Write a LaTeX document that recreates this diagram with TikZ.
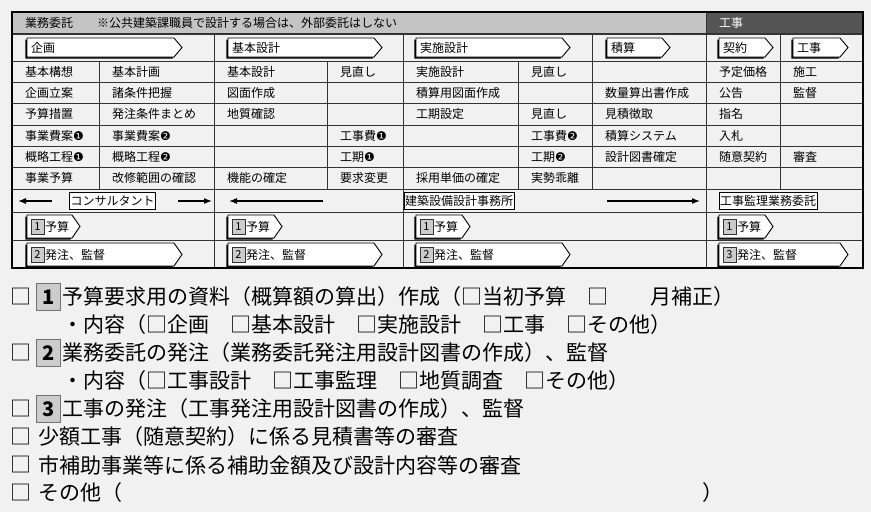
\documentclass[tikz,border=0pt]{standalone}
\usepackage{fontspec}
\setmainfont{Noto Sans CJK JP}
\newfontfamily\dingfont{DejaVu Sans}
\usepackage{xcolor}
\usetikzlibrary{arrows.meta}

\definecolor{bgcol}{HTML}{F1F1F1}
\definecolor{headgray}{HTML}{C4C4C4}
\definecolor{headdark}{HTML}{555555}
\definecolor{numgray}{HTML}{CCCCCC}
\definecolor{linecol}{HTML}{333333}

\newcommand{\cone}{{\dingfont\char"2776}}
\newcommand{\ctwo}{{\dingfont\char"2777}}

% chevron tag: left, top, bottom, tip
\newcommand{\tagshape}[4]{%
  \fill[black,shift={(-1.6,1.6)}] (#1,#2) -- (#4-8,#2) -- (#4,{(#2+#3)/2}) -- (#4-8,#3) -- (#1,#3) -- cycle;
  \draw[fill=white,line width=0.9pt] (#1,#2) -- (#4-8,#2) -- (#4,{(#2+#3)/2}) -- (#4-8,#3) -- (#1,#3) -- cycle;}

\tikzset{
  cell/.style={anchor=west, inner sep=0pt, font=\fontsize{12}{14}\selectfont},
  numtag/.style={draw=black!80, fill=numgray, minimum width=13pt, minimum height=15pt,
    inner sep=0pt, font=\fontsize{11}{12}\selectfont},
  firmbox/.style={draw, fill=white, inner xsep=1pt, inner ysep=0pt, minimum height=17pt,
    font=\fontsize{12}{14}\selectfont},
  arr/.style={-{Latex[length=8pt,width=6pt]}, line width=1.1pt},
  chk/.style={inner sep=0pt, font=\fontsize{21}{25}\selectfont},
  listnum/.style={draw=black!55, fill=numgray, minimum width=24pt, minimum height=27pt,
    inner sep=0pt, font=\fontsize{20}{22}\selectfont\bfseries},
  listtext/.style={anchor=west, inner sep=0pt, font=\fontsize{21}{25}\selectfont},
}

\begin{document}
\begin{tikzpicture}[x=1pt,y=-1pt]

    % page
    \useasboundingbox (0,0) rectangle (871,512);
    \fill[bgcol] (0,0) rectangle (871,512);

    % header row
    \fill[headgray] (12,12) rectangle (706,34);
    \fill[headdark] (706,12) rectangle (863,34);

    % lines
    \draw[linecol,line width=1.1pt] (12,34) -- (863,34);
    \draw[linecol,line width=0.8pt] (12,61) -- (863,61);
    \draw[linecol,line width=0.8pt] (12,82.3) -- (863,82.3);
    \draw[linecol,line width=0.8pt] (12,103.7) -- (863,103.7);
    \draw[linecol,line width=0.8pt] (12,125) -- (863,125);
    \draw[linecol,line width=0.8pt] (12,146.3) -- (863,146.3);
    \draw[linecol,line width=0.8pt] (12,167.7) -- (863,167.7);
    \draw[linecol,line width=0.8pt] (12,189) -- (863,189);
    \draw[linecol,line width=0.8pt] (12,212) -- (863,212);
    \draw[linecol,line width=0.8pt] (12,240) -- (863,240);
    \draw[linecol,line width=0.8pt] (706,12) -- (706,268);
    \draw[linecol,line width=0.8pt] (214,34) -- (214,268);
    \draw[linecol,line width=0.8pt] (403,34) -- (403,268);
    \draw[linecol,line width=0.8pt] (592,34) -- (592,189);
    \draw[linecol,line width=0.8pt] (780,34) -- (780,189);
    \draw[linecol,line width=0.8pt] (99,61) -- (99,189);
    \draw[linecol,line width=0.8pt] (327,61) -- (327,189);
    \draw[linecol,line width=0.8pt] (518,61) -- (518,189);
    \draw[line width=1.6pt] (12,12) rectangle (863,268);

    % header labels
    \node[cell] (hdr) at (25,23) {業務委託　　※公共建築課職員で設計する場合は、外部委託はしない};
    \node[cell,text=white] (hdrwork) at (719,23) {工事};

    % stage tags
    \tagshape{27}{38}{57}{182}
    \node[cell] (kikaku) at (31,47.5) {企画};
    \tagshape{228}{38}{57}{382}
    \node[cell] (kihon) at (232,47.5) {基本設計};
    \tagshape{416}{38}{57}{570}
    \node[cell] (jisshi) at (420,47.5) {実施設計};
    \tagshape{607}{38}{57}{670}
    \node[cell] (sekisan) at (611,47.5) {積算};
    \tagshape{719}{38}{57}{773}
    \node[cell] (keiyaku) at (723,47.5) {契約};
    \tagshape{793}{38}{57}{848}
    \node[cell] (koji) at (797,47.5) {工事};

    % row 1
    \node[cell] (r1c1) at (25,71.7) {基本構想};
    \node[cell] (r1c2) at (112,71.7) {基本計画};
    \node[cell] (r1c3) at (227,71.7) {基本設計};
    \node[cell] (r1c4) at (340,71.7) {見直し};
    \node[cell] (r1c5) at (416,71.7) {実施設計};
    \node[cell] (r1c6) at (531,71.7) {見直し};
    \node[cell] (r1c8) at (719,71.7) {予定価格};
    \node[cell] (r1c9) at (793,71.7) {施工};

    % row 2
    \node[cell] (r2c1) at (25,93) {企画立案};
    \node[cell] (r2c2) at (112,93) {諸条件把握};
    \node[cell] (r2c3) at (227,93) {図面作成};
    \node[cell] (r2c5) at (416,93) {積算用図面作成};
    \node[cell] (r2c7) at (605,93) {数量算出書作成};
    \node[cell] (r2c8) at (719,93) {公告};
    \node[cell] (r2c9) at (793,93) {監督};

    % row 3
    \node[cell] (r3c1) at (25,114.3) {予算措置};
    \node[cell] (r3c2) at (112,114.3) {発注条件まとめ};
    \node[cell] (r3c3) at (227,114.3) {地質確認};
    \node[cell] (r3c5) at (416,114.3) {工期設定};
    \node[cell] (r3c6) at (531,114.3) {見直し};
    \node[cell] (r3c7) at (605,114.3) {見積徴取};
    \node[cell] (r3c8) at (719,114.3) {指名};

    % row 4
    \node[cell] (r4c1) at (25,135.7) {事業費案\cone};
    \node[cell] (r4c2) at (112,135.7) {事業費案\ctwo};
    \node[cell] (r4c4) at (340,135.7) {工事費\cone};
    \node[cell] (r4c6) at (531,135.7) {工事費\ctwo};
    \node[cell] (r4c7) at (605,135.7) {積算システム};
    \node[cell] (r4c8) at (719,135.7) {入札};

    % row 5
    \node[cell] (r5c1) at (25,157) {概略工程\cone};
    \node[cell] (r5c2) at (112,157) {概略工程\ctwo};
    \node[cell] (r5c4) at (340,157) {工期\cone};
    \node[cell] (r5c6) at (531,157) {工期\ctwo};
    \node[cell] (r5c7) at (605,157) {設計図書確定};
    \node[cell] (r5c8) at (719,157) {随意契約};
    \node[cell] (r5c9) at (793,157) {審査};

    % row 6
    \node[cell] (r6c1) at (25,178.3) {事業予算};
    \node[cell] (r6c2) at (112,178.3) {改修範囲の確認};
    \node[cell] (r6c3) at (227,178.3) {機能の確定};
    \node[cell] (r6c4) at (340,178.3) {要求変更};
    \node[cell] (r6c5) at (416,178.3) {採用単価の確定};
    \node[cell] (r6c6) at (531,178.3) {実勢乖離};

    % who does the work
    \node[firmbox] (consul) at (112.5,201) {コンサルタント};
    \coordinate (consulL) at (18,201);
    \coordinate (consulLa) at (52,201);
    \coordinate (consulR) at (212,201);
    \coordinate (consulRa) at (178,201);
    \draw[arr] (consulLa) -- (consulL);
    \draw[arr] (consulRa) -- (consulR);
    \node[firmbox] (office) at (459,201) {建築設備設計事務所};
    \coordinate (officeL) at (229,201);
    \coordinate (officeLa) at (323,201);
    \coordinate (officeR) at (700,201);
    \coordinate (officeRa) at (607,201);
    \draw[arr] (officeLa) -- (officeL);
    \draw[arr] (officeRa) -- (officeR);
    \node[firmbox,anchor=west] (kanri) at (719,201) {工事監理業務委託};

    % budget tags
    \tagshape{27}{215}{238}{80}
    \node[numtag] (yn1) at (37.5,226.5) {1};
    \node[cell] (yosan1) at (45,226.5) {予算};
    \tagshape{228}{215}{238}{282}
    \node[numtag] (yn2) at (238.5,226.5) {1};
    \node[cell] (yosan2) at (246,226.5) {予算};
    \tagshape{416}{215}{238}{470}
    \node[numtag] (yn3) at (426.5,226.5) {1};
    \node[cell] (yosan3) at (434,226.5) {予算};
    \tagshape{719}{215}{238}{773}
    \node[numtag] (yn4) at (729.5,226.5) {1};
    \node[cell] (yosan4) at (737,226.5) {予算};

    % order tags
    \tagshape{27}{243}{266}{182}
    \node[numtag] (hn1) at (37.5,254.5) {2};
    \node[cell] (hatchu1) at (45,254.5) {発注、監督};
    \tagshape{228}{243}{266}{382}
    \node[numtag] (hn2) at (238.5,254.5) {2};
    \node[cell] (hatchu2) at (246,254.5) {発注、監督};
    \tagshape{416}{243}{266}{570}
    \node[numtag] (hn3) at (426.5,254.5) {2};
    \node[cell] (hatchu3) at (434,254.5) {発注、監督};
    \tagshape{719}{243}{266}{848}
    \node[numtag] (hn4) at (729.5,254.5) {3};
    \node[cell] (hatchu4) at (737,254.5) {発注、監督};

    % check list
    \node[chk] (chk1) at (21,297) {□};
    \node[listnum] (ln1) at (48.5,297) {1};
    \node[listtext] (item1) at (62,297) {予算要求用の資料（概算額の算出）作成（□当初予算　□　　月補正）};
    \node[listtext] (item1b) at (62,325) {・内容（□企画　□基本設計　□実施設計　□工事　□その他）};
    \node[chk] (chk2) at (21,353) {□};
    \node[listnum] (ln2) at (48.5,353) {2};
    \node[listtext] (item2) at (62,353) {業務委託の発注（業務委託発注用設計図書の作成）、監督};
    \node[listtext] (item2b) at (62,381) {・内容（□工事設計　□工事監理　□地質調査　□その他）};
    \node[chk] (chk3) at (21,409) {□};
    \node[listnum] (ln3) at (48.5,409) {3};
    \node[listtext] (item3) at (62,409) {工事の発注（工事発注用設計図書の作成）、監督};
    \node[chk] (chk4) at (21,437) {□};
    \node[listtext] (item4) at (38,437) {少額工事（随意契約）に係る見積書等の審査};
    \node[chk] (chk5) at (21,465) {□};
    \node[listtext] (item5) at (38,465) {市補助事業等に係る補助金額及び設計内容等の審査};
    \node[chk] (chk6) at (21,493) {□};
    \node[listtext] (item6) at (38,493) {その他（\hspace{580pt}）};
    \end{tikzpicture}
\end{document}
